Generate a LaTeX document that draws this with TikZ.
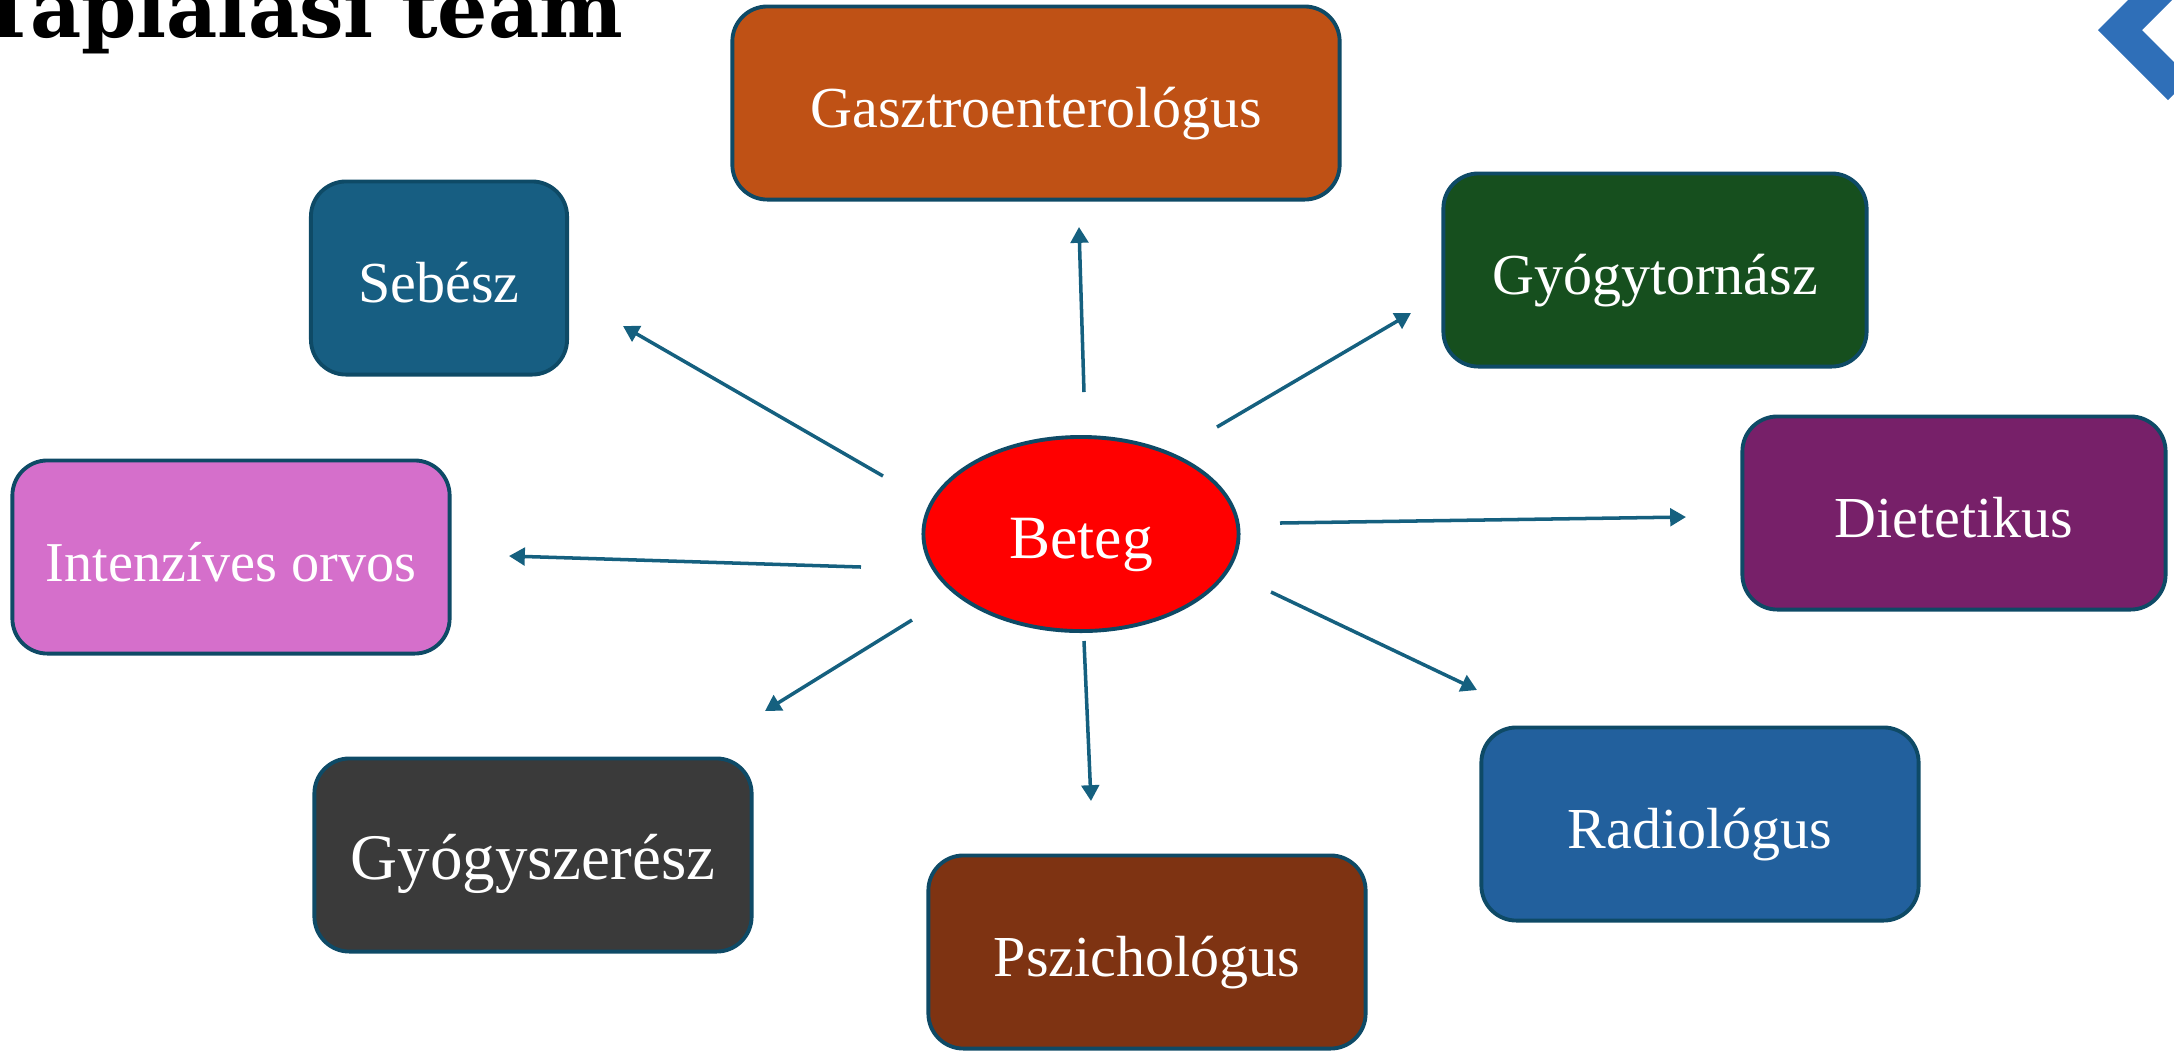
\documentclass[tikz,border=0pt]{standalone}
\usepackage{fontspec}
\setmainfont{Liberation Serif}
\newfontfamily\titlefont{DejaVu Serif}
\usetikzlibrary{shapes.geometric,arrows.meta,positioning}

\definecolor{edge-col}{HTML}{0E4A66}
\definecolor{link-col}{HTML}{15607F}
\definecolor{gasztro-col}{HTML}{BF5115}
\definecolor{sebesz-col}{HTML}{175E82}
\definecolor{torna-col}{HTML}{164F1E}
\definecolor{dieta-col}{HTML}{772069}
\definecolor{intenziv-col}{HTML}{D56FCB}
\definecolor{szeresz-col}{HTML}{3A3A3A}
\definecolor{pszicho-col}{HTML}{7E3312}
\definecolor{radio-col}{HTML}{22609D}
\definecolor{chevron-col}{HTML}{2F6FB8}

\tikzset{
	team/.style={rectangle,rounded corners=0.35cm,draw=edge-col,line width=1.1pt,
		minimum height=1.93cm,text height=14pt,text depth=0pt,text=white,
		font=\fontsize{16.5}{20}\selectfont},
	patient/.style={ellipse,draw=edge-col,line width=1.1pt,fill=red,text=white,
		minimum width=3.15cm,minimum height=1.94cm,text height=14pt,text depth=0pt,
		font=\fontsize{17.5}{21}\selectfont},
	link/.style={draw=link-col,line width=1pt,-{Triangle[length=4.5pt,width=5pt]}}
}

\begin{document}
\begin{tikzpicture}[x=0.01cm,y=-0.01cm]
	
	\useasboundingbox (0,0) rectangle (2174,1050);
	\clip (0,0) rectangle (2174,1050);
	
	%%%%%%%%%%%%%%%%%%%%%%%%%%%%%%%%%%%%%%%%%%%%%%%%%%%%%%
	
	\node [anchor=base west,inner sep=0pt,font=\titlefont\bfseries\fontsize{22.5}{27}\selectfont] (title) at (-22,37) {Táplálási team};
	
	\fill [chevron-col] (2098,30) -- (2128,0) -- (2172,0) -- (2142,30) -- (2174,62) -- (2174,94) -- (2168,100) -- cycle;
	
	%%%%%%%%%%%%%%%%%%%%%%%%%%%%%%%%%%%%%%%%%%%%%%%%%%%%%%
	
	\node [patient] (beteg) at (1081,534) {Beteg};
	
	\node [team,fill=gasztro-col,minimum width=6.07cm] (gasztro) at (1036,103) {Gasztroenterológus};
	\node [team,fill=sebesz-col,minimum width=2.56cm] (sebesz) at (439,278) {Sebész};
	\node [team,fill=torna-col,minimum width=4.23cm] (torna) at (1655,270) {Gyógytornász};
	\node [team,fill=dieta-col,minimum width=4.23cm] (dieta) at (1954,513) {Dietetikus};
	\node [team,fill=intenziv-col,minimum width=4.37cm,font=\fontsize{16}{20}\selectfont] (intenziv) at (231,557) {Intenzíves orvos};
	\node [team,fill=szeresz-col,minimum width=4.37cm,font=\fontsize{18.5}{22}\selectfont] (szeresz) at (533,855) {Gyógyszerész};
	\node [team,fill=pszicho-col,minimum width=4.37cm] (pszicho) at (1147,952) {Pszichológus};
	\node [team,fill=radio-col,minimum width=4.37cm] (radio) at (1700,824) {Radiológus};
	
	%%%%%%%%%%%%%%%%%%%%%%%%%%%%%%%%%%%%%%%%%%%%%%%%%%%%%%
	
	\coordinate (gasztro-from) at (1084,392);
	\coordinate (gasztro-to) at (1079,227);
	\coordinate (sebesz-from) at (883,476);
	\coordinate (sebesz-to) at (623,326);
	\coordinate (torna-from) at (1217,427);
	\coordinate (torna-to) at (1411,313);
	\coordinate (dieta-from) at (1280,523);
	\coordinate (dieta-to) at (1686,517);
	\coordinate (intenziv-from) at (861,567);
	\coordinate (intenziv-to) at (509,556);
	\coordinate (szeresz-from) at (912,620);
	\coordinate (szeresz-to) at (765,711);
	\coordinate (pszicho-from) at (1084,641);
	\coordinate (pszicho-to) at (1091,801);
	\coordinate (radio-from) at (1271,592);
	\coordinate (radio-to) at (1477,690);
	
	\foreach \n in {gasztro,sebesz,torna,dieta,intenziv,szeresz,pszicho,radio}
		\draw [link] (\n-from) -- (\n-to);
	
	%%%%%%%%%%%%%%%%%%%%%%%%%%%%%%%%%%%%%%%%%%%%%%%%%%%%%%
	
\end{tikzpicture}
\end{document}
